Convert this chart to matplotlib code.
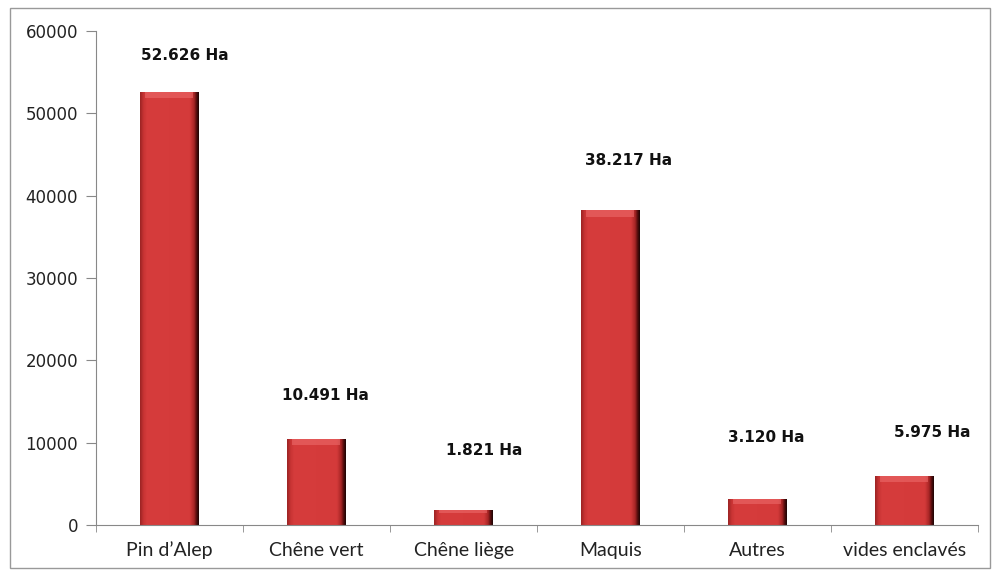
import numpy as np
import matplotlib.pyplot as plt
from matplotlib.colors import LinearSegmentedColormap
from matplotlib.patches import Rectangle

categories = ["Pin d\u2019Alep", "Ch\u00eane vert", "Ch\u00eane li\u00e8ge", "Maquis", "Autres", "vides enclav\u00e9s"]
surfaces = [52626, 10491, 1821, 38217, 3120, 5975]
value_labels = ["52.626 Ha", "10.491 Ha", "1.821 Ha", "38.217 Ha", "3.120 Ha", "5.975 Ha"]

# where the data labels sit (the original chart places them loosely)
label_y = [57000, 15700, 9100, 44300, 10600, 11200]
label_dx = [0.1, 0.06, 0.14, 0.12, 0.06, 0.19]

bar_cmap = LinearSegmentedColormap.from_list(
    "bar", [(0.0, "#9c2424"), (0.06, "#c83434"), (0.12, "#d63c3c"),
            (0.85, "#d43a3a"), (0.92, "#a82626"), (0.96, "#5a0e0e"), (1.0, "#1e0505")])


def draw_bar(ax, x, h, w):
    grad = np.linspace(0, 1, 128).reshape(1, -1)
    im = ax.imshow(grad, cmap=bar_cmap, extent=[x - w / 2, x + w / 2, 0, h],
                   aspect="auto", zorder=2, interpolation="bilinear")
    clip = Rectangle((x - w / 2, 0), w, h, transform=ax.transData)
    im.set_clip_path(clip)
    # lighter bevel along the top
    bevel = min(800, h * 0.2)
    ax.add_patch(Rectangle((x - w / 2 + 0.03, h - bevel), w - 0.07, bevel,
                           facecolor="#ec6a6a", edgecolor="none", alpha=0.6, zorder=3))


def main():
    fig = plt.figure(figsize=(9.92, 5.70), dpi=100)
    ax = fig.add_axes([0.097, 0.079, 0.889, 0.867])

    x = np.arange(len(categories))
    w = 0.4
    for xi, h in zip(x, surfaces):
        draw_bar(ax, xi, h, w)

    for xi, txt, ly, dx in zip(x, value_labels, label_y, label_dx):
        ax.text(xi + dx, ly, txt, ha="center", va="center", fontsize=11,
                fontweight="bold", color="#111111")

    ax.set_xlim(-0.5, len(categories) - 0.5)
    ax.set_ylim(0, 60000)
    ax.set_yticks(np.arange(0, 60001, 10000))
    ax.set_yticklabels([str(v) for v in range(0, 60001, 10000)], fontsize=12, color="#222222")
    ax.set_xticks(x)
    ax.set_xticklabels(categories, fontsize=14, family="Lato", color="#222222")
    ax.set_xticks(np.arange(-0.5, len(categories), 1), minor=True)
    ax.tick_params(axis="x", which="major", length=0, pad=12)
    ax.tick_params(axis="x", which="minor", length=5, color="#888888")
    ax.tick_params(axis="y", length=7, color="#888888", pad=6)

    for side in ["top", "right"]:
        ax.spines[side].set_visible(False)
    for side in ["left", "bottom"]:
        ax.spines[side].set_color("#888888")

    fig.patches.append(Rectangle((0.01, 0.004), 0.988, 0.982, transform=fig.transFigure,
                                 fill=False, edgecolor="#999999", linewidth=1))

    fig.savefig("out.png", dpi=100)


if __name__ == "__main__":
    main()
